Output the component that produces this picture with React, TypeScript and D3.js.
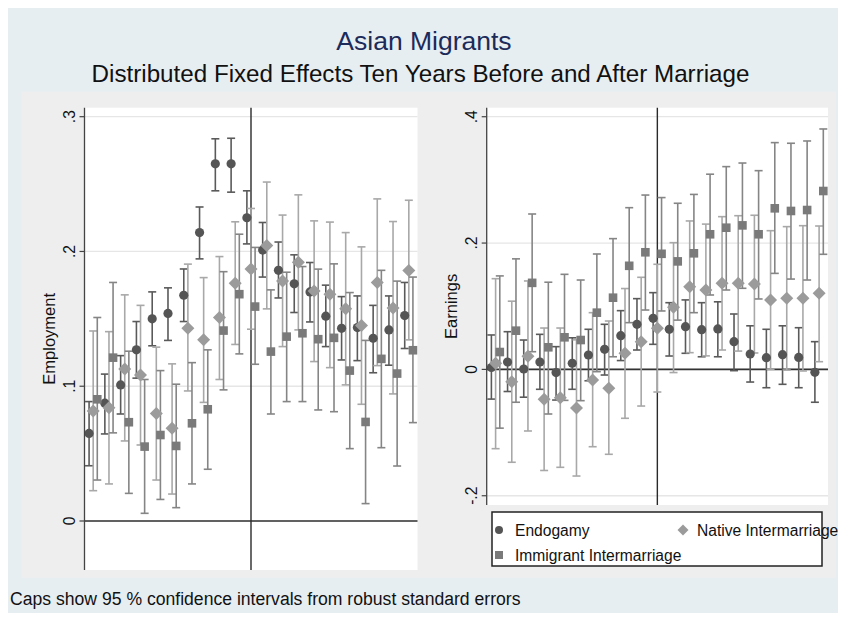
import React from "react";
import * as d3 from "d3";

const years = [-10,-9,-8,-7,-6,-5,-4,-3,-2,-1,0,1,2,3,4,5,6,7,8,9,10];

// Employment panel
const empEndoEst = [0.065,0.0874,0.101,0.127,0.150,0.154,0.1675,0.214,0.265,0.265,0.225,0.201,0.186,0.176,0.170,0.152,0.143,0.1435,0.1356,0.1418,0.1524];
const empEndoLo = [0.041,0.0646,0.0794,0.106,0.130,0.134,0.148,0.1945,0.245,0.244,0.2056,0.181,0.1655,0.1547,0.1477,0.1294,0.1195,0.119,0.110,0.1156,0.128];
const empEndoHi = [0.0886,0.109,0.1227,0.148,0.170,0.173,0.187,0.233,0.2836,0.284,0.245,0.2215,0.207,0.1975,0.1918,0.175,0.1665,0.167,0.160,0.167,0.177];
const empNatEst = [0.0817,0.084,0.1128,0.1084,0.0797,0.0688,0.143,0.1344,0.151,0.1765,0.187,0.2044,0.178,0.192,0.1707,0.1683,0.1574,0.145,0.177,0.158,0.1858];
const empNatLo = [0.0225,0.0275,0.0594,0.0564,0.0304,0.020,0.0965,0.088,0.105,0.131,0.1423,0.1574,0.1294,0.1418,0.1183,0.1138,0.101,0.0866,0.1153,0.0943,0.1344];
const empNatHi = [0.141,0.1405,0.1678,0.160,0.129,0.1166,0.1906,0.1806,0.1962,0.222,0.2319,0.2515,0.227,0.242,0.2227,0.2218,0.214,0.2034,0.239,0.2222,0.238];
const empImmEst = [0.0903,0.1212,0.0733,0.0552,0.0638,0.0557,0.0725,0.0829,0.1413,0.1683,0.1591,0.1257,0.1368,0.1393,0.1349,0.1359,0.1116,0.0735,0.1203,0.1094,0.1267];
const empImmLo = [0.0304,0.0654,0.0205,0.0057,0.016,0.0099,0.0275,0.0384,0.0973,0.124,0.1163,0.0794,0.0886,0.0886,0.0824,0.0811,0.0537,0.0129,0.0544,0.0408,0.073];
const empImmHi = [0.151,0.177,0.126,0.105,0.1116,0.1015,0.1175,0.127,0.185,0.2128,0.203,0.1715,0.1846,0.1888,0.1869,0.1908,0.1695,0.134,0.186,0.178,0.181];

// Earnings panel
const earnEndoEst = [0.003,0.0117,0.0006,0.0117,-0.005,0.0097,0.0228,0.0318,0.0534,0.0714,0.0809,0.0635,0.0676,0.0629,0.064,0.0439,0.0244,0.0185,0.0233,0.019,-0.0046];
const earnEndoLo = [-0.047,-0.035,-0.044,-0.0315,-0.0485,-0.0315,-0.018,-0.0089,0.014,0.0307,0.0397,0.0212,0.0255,0.020,0.020,-0.002,-0.020,-0.029,-0.0236,-0.029,-0.052];
const earnEndoHi = [0.0545,0.0597,0.0465,0.0555,0.036,0.050,0.0635,0.0714,0.093,0.112,0.1215,0.1056,0.110,0.1056,0.107,0.0877,0.069,0.0635,0.069,0.066,0.0439];
const earnNatEst = [0.0097,-0.0194,0.021,-0.0474,-0.045,-0.061,-0.0168,-0.030,0.0255,0.0439,0.065,0.0983,0.131,0.1257,0.1363,0.1363,0.135,0.1099,0.1125,0.1125,0.1205];
const earnNatLo = [-0.1255,-0.147,-0.0975,-0.160,-0.155,-0.1688,-0.1224,-0.1344,-0.0774,-0.058,-0.0358,-0.005,0.0265,0.0214,0.0307,0.029,0.026,0.0002,-0.001,-0.0025,0.0122];
const earnNatHi = [0.1436,0.108,0.14,0.0655,0.0655,0.0468,0.0898,0.0766,0.128,0.1458,0.1664,0.2006,0.235,0.230,0.2418,0.2433,0.244,0.2196,0.226,0.2275,0.227];
const earnImmEst = [0.0275,0.0613,0.137,0.035,0.0508,0.0465,0.0898,0.1135,0.164,0.1854,0.183,0.171,0.1838,0.2139,0.2243,0.228,0.2139,0.255,0.2508,0.2523,0.2824];
const earnImmLo = [-0.093,-0.052,0.028,-0.0706,-0.049,-0.0495,-0.0036,0.02,0.074,0.094,0.0925,0.078,0.0898,0.1178,0.1257,0.1284,0.1115,0.152,0.143,0.1415,0.1822];
const earnImmHi = [0.148,0.175,0.246,0.138,0.1505,0.1415,0.1827,0.207,0.256,0.276,0.272,0.263,0.277,0.309,0.321,0.3267,0.3146,0.359,0.358,0.3616,0.3806];

const empTicks = [0, 0.1, 0.2, 0.3];
const empTickLabels = ["0", ".1", ".2", ".3"];
const earnTicks = [-0.2, 0, 0.2, 0.4];
const earnTickLabels = ["-.2", "0", ".2", ".4"];

const seriesNames = ["Endogamy", "Native Intermarriage", "Immigrant Intermarriage"];

const FONT = "'Liberation Sans', Arial, Helvetica, sans-serif";
const C_ENDO = "#555555";
const C_NAT = "#9b9b9b";
const C_IMM = "#7a7a7a";
const C_NAT_LINE = "#a8a8a8";
const C_IMM_LINE = "#858585";
const C_ENDO_LINE = "#5a5a5a";

function diamondPath(cx: number, cy: number, r: number) {
  return `M${cx},${cy - r}L${cx + r},${cy}L${cx},${cy + r}L${cx - r},${cy}Z`;
}

type PanelProps = {
  left: number; right: number; top: number; bottom: number;
  yDomain: [number, number];
  ticks: number[]; tickLabels: string[];
  title: string;
  endo: number[][]; nat: number[][]; imm: number[][];
};

function Panel(p: PanelProps) {
  const x = d3.scaleLinear().domain([-10.55, 10.55]).range([p.left, p.right]);
  const y = d3.scaleLinear().domain(p.yDomain).range([p.bottom, p.top]);
  const off = 0.26;
  const cap = 4;
  const drawCI = (s: number[][], dx: number, color: string, key: string) =>
    years.map((t, i) => {
      const xx = x(t + dx);
      const y1 = y(s[1][i]);
      const y2 = y(s[2][i]);
      return (
        <g key={key + i} stroke={color} strokeWidth={1.6} fill="none">
          <line x1={xx} x2={xx} y1={y1} y2={y2} />
          <line x1={xx - cap} x2={xx + cap} y1={y1} y2={y1} />
          <line x1={xx - cap} x2={xx + cap} y1={y2} y2={y2} />
        </g>
      );
    });
  return (
    <g>
      <rect x={p.left} y={p.top} width={p.right - p.left} height={p.bottom - p.top} fill="#ffffff" />
      {p.ticks.map((t) => (
        <line key={"g" + t} x1={p.left} x2={p.right} y1={y(t)} y2={y(t)} stroke="#e6e6e6" strokeWidth={1.3} />
      ))}
      <line x1={p.left} x2={p.right} y1={y(0)} y2={y(0)} stroke="#333333" strokeWidth={1.6} />
      <line x1={x(0)} x2={x(0)} y1={p.top} y2={p.bottom} stroke="#2a2a2a" strokeWidth={1.4} />
      {drawCI(p.endo, -off, C_ENDO_LINE, "ce")}
      {drawCI(p.nat, 0, C_NAT_LINE, "cn")}
      {drawCI(p.imm, off, C_IMM_LINE, "ci")}
      {years.map((t, i) => (
        <circle key={"me" + i} cx={x(t - off)} cy={y(p.endo[0][i])} r={4.6} fill={C_ENDO} />
      ))}
      {years.map((t, i) => (
        <path key={"mn" + i} d={diamondPath(x(t), y(p.nat[0][i]), 6.5)} fill={C_NAT} />
      ))}
      {years.map((t, i) => (
        <rect key={"mi" + i} x={x(t + off) - 4.3} y={y(p.imm[0][i]) - 4.3} width={8.6} height={8.6} fill={C_IMM} />
      ))}
      <line x1={p.left} x2={p.left} y1={p.top} y2={p.bottom} stroke="#444444" strokeWidth={1.3} />
      {p.ticks.map((t, i) => (
        <g key={"t" + t}>
          <line x1={p.left - 5} x2={p.left} y1={y(t)} y2={y(t)} stroke="#444444" strokeWidth={1.2} />
          <text
            transform={`translate(${p.left - 9.5},${y(t)}) rotate(-90)`}
            textAnchor="middle"
            fontFamily={FONT}
            fontSize={15.6}
            fill="#111"
          >
            {p.tickLabels[i]}
          </text>
        </g>
      ))}
      <text
        transform={`translate(${p.left - 29.5},${(p.top + p.bottom) / 2}) rotate(-90)`}
        textAnchor="middle"
        fontFamily={FONT}
        fontSize={16.5}
        fill="#111"
      >
        {p.title}
      </text>
    </g>
  );
}

export default function App() {
  const lx = 499;
  return (
    <svg width={830} height={605} style={{ display: "block" }}>
      <g transform="translate(-8,-8)">
        <rect x={8} y={8} width={830} height={605} fill="#e7eef1" />
        <rect x={21.7} y={91.7} width={814} height={486} fill="#eeeeee" />
        <text x={424} y={50} textAnchor="middle" fontFamily={FONT} fontSize={26.5} fill="#1c2b5a">
          Asian Migrants
        </text>
        <text x={420.5} y={81.5} textAnchor="middle" fontFamily={FONT} fontSize={24.2} fill="#111">
          Distributed Fixed Effects Ten Years Before and After Marriage
        </text>
        <Panel
          left={84.5} right={417.5} top={107.7} bottom={570}
          yDomain={[(521 - 570) / 1347.7, (521 - 107.7) / 1347.7]}
          ticks={empTicks} tickLabels={empTickLabels} title="Employment"
          endo={[empEndoEst, empEndoLo, empEndoHi]}
          nat={[empNatEst, empNatLo, empNatHi]}
          imm={[empImmEst, empImmLo, empImmHi]}
        />
        <Panel
          left={486.7} right={828} top={107.7} bottom={505}
          yDomain={[(369.4 - 505) / 631.7, (369.4 - 107.7) / 631.7]}
          ticks={earnTicks} tickLabels={earnTickLabels} title="Earnings"
          endo={[earnEndoEst, earnEndoLo, earnEndoHi]}
          nat={[earnNatEst, earnNatLo, earnNatHi]}
          imm={[earnImmEst, earnImmLo, earnImmHi]}
        />
        <rect x={492} y={512} width={330} height={54} fill="#ffffff" stroke="#222222" strokeWidth={1.5} />
        <circle cx={lx} cy={530} r={4} fill={C_ENDO} />
        <text x={515} y={535.5} fontFamily={FONT} fontSize={15.6} fill="#111">{seriesNames[0]}</text>
        <path d={diamondPath(683, 530, 5.5)} fill={C_NAT} />
        <text x={697} y={535.5} fontFamily={FONT} fontSize={15.6} fill="#111">{seriesNames[1]}</text>
        <rect x={lx - 4} y={551} width={8} height={8} fill={C_IMM} />
        <text x={515} y={560.5} fontFamily={FONT} fontSize={15.6} fill="#111">{seriesNames[2]}</text>
        <text x={10} y={605} fontFamily={FONT} fontSize={17.6} fill="#111">
          Caps show 95 % confidence intervals from robust standard errors
        </text>
      </g>
    </svg>
  );
}
